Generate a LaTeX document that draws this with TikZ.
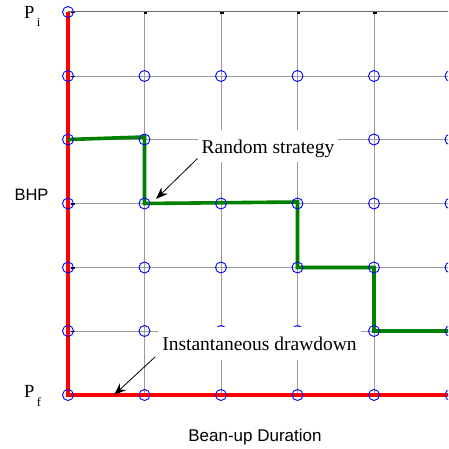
\documentclass[tikz,border=0pt]{standalone}
\usepackage{fontspec}
\setmainfont{Liberation Serif}
\newfontfamily\axisfont{Liberation Sans}
\usetikzlibrary{arrows.meta}
\definecolor{gridgray}{RGB}{155,155,155}
\definecolor{gridtop}{RGB}{105,105,105}
\definecolor{pathred}{RGB}{255,0,0}
\definecolor{pathgreen}{RGB}{0,128,0}
\definecolor{markblue}{RGB}{0,0,255}

\begin{document}
\begin{tikzpicture}[x=1pt,y=-1pt,
  gridline/.style={draw=gridgray,line width=0.9pt},
  topline/.style={draw=gridtop,line width=1pt},
  endmark/.style={draw=black,line width=1.6pt},
  drawdown/.style={draw=pathred,line width=4pt},
  randompath/.style={draw=pathgreen,line width=3.6pt},
  statept/.style={circle,draw=markblue,line width=0.9pt,minimum size=11pt,inner sep=0pt},
  callout/.style={fill=white,inner xsep=4pt,inner ysep=4.5pt,text height=19pt,
    text depth=4.5pt,font=\fontsize{19.5}{22}\selectfont},
  pointer/.style={draw=black,line width=0.8pt,-{Stealth[length=12pt,width=9pt]}},
  plabel/.style={font=\fontsize{18.5}{22}\selectfont,anchor=base west,inner sep=0pt},
  axislabel/.style={font=\axisfont\fontsize{16.5}{20}\selectfont,inner sep=0pt}
]
\useasboundingbox (0,0) rectangle (448,449);
\clip (0,0) rectangle (448,449);

% lattice points: columns = bean-up time steps, rows = BHP levels
\foreach \c/\x in {0/68,1/144.5,2/221,3/297.5,4/374,5/450.5}{
  \foreach \r/\y in {0/12,1/76,2/139.5,3/203.5,4/267.5,5/331,6/395}{
    \coordinate (g-\c-\r) at (\x,\y);
  }
}

% grid
\draw[topline] (g-0-0) -- (g-5-0);
\foreach \r in {1,...,6}{ \draw[gridline] (g-0-\r) -- (g-5-\r); }
\foreach \c in {1,...,5}{ \draw[gridline] (g-\c-0) -- (g-\c-6); }
\foreach \c in {1,...,4}{
  \draw[endmark] ([xshift=-1pt,yshift=-1pt]g-\c-0) -- ([xshift=2.5pt,yshift=-1pt]g-\c-0);
}
\foreach \r in {0,...,5}{
  \draw[black,line width=1.2pt] ([xshift=3pt,yshift=-0.5pt]g-0-\r) -- ([xshift=7pt,yshift=-0.5pt]g-0-\r);
}

% instantaneous drawdown path
\draw[drawdown] (g-0-0) -- (g-0-6) -- ([xshift=3pt]g-5-6);

% random strategy path
\draw[randompath,line join=miter]
  (g-0-2) -- ([yshift=2.5pt]g-1-2) -- (g-1-3) -- ([yshift=1.5pt]g-3-3)
  -- (g-3-4) -- (g-4-4) -- (g-4-5) -- ([xshift=3pt]g-5-5);

% state markers
\node[statept] (s-0-0) at (g-0-0) {};
\foreach \c in {0,...,5}{
  \foreach \r in {1,...,6}{
    \node[statept] (s-\c-\r) at (g-\c-\r) {};
  }
}

% callouts
\node[callout,anchor=base] (rs) at (268,153.3) {Random strategy};
\node[callout,anchor=base] (id) at (259.5,350.7) {Instantaneous drawdown};
\coordinate (rs-tip) at (156,199);
\coordinate (id-tip) at (114,395);
\draw[pointer] ([yshift=4pt]rs.south west) -- (rs-tip);
\draw[pointer] ([xshift=-3pt,yshift=3pt]id.south west) -- (id-tip);

% axis labels
\node[plabel] (pi) at (24,19) {P\hspace{2.5pt}\raisebox{-8pt}{\fontsize{12.5}{14}\selectfont i}};
\node[plabel] (pf) at (24,397) {P\hspace{2.5pt}\raisebox{-9pt}{\fontsize{12.5}{14}\selectfont f}};
\node[axislabel] (bhp) at (31.5,195) {BHP};
\node[axislabel,anchor=base,font=\axisfont\fontsize{17}{20}\selectfont] (dur) at (255,441) {Bean-up Duration};
\end{tikzpicture}
\end{document}
